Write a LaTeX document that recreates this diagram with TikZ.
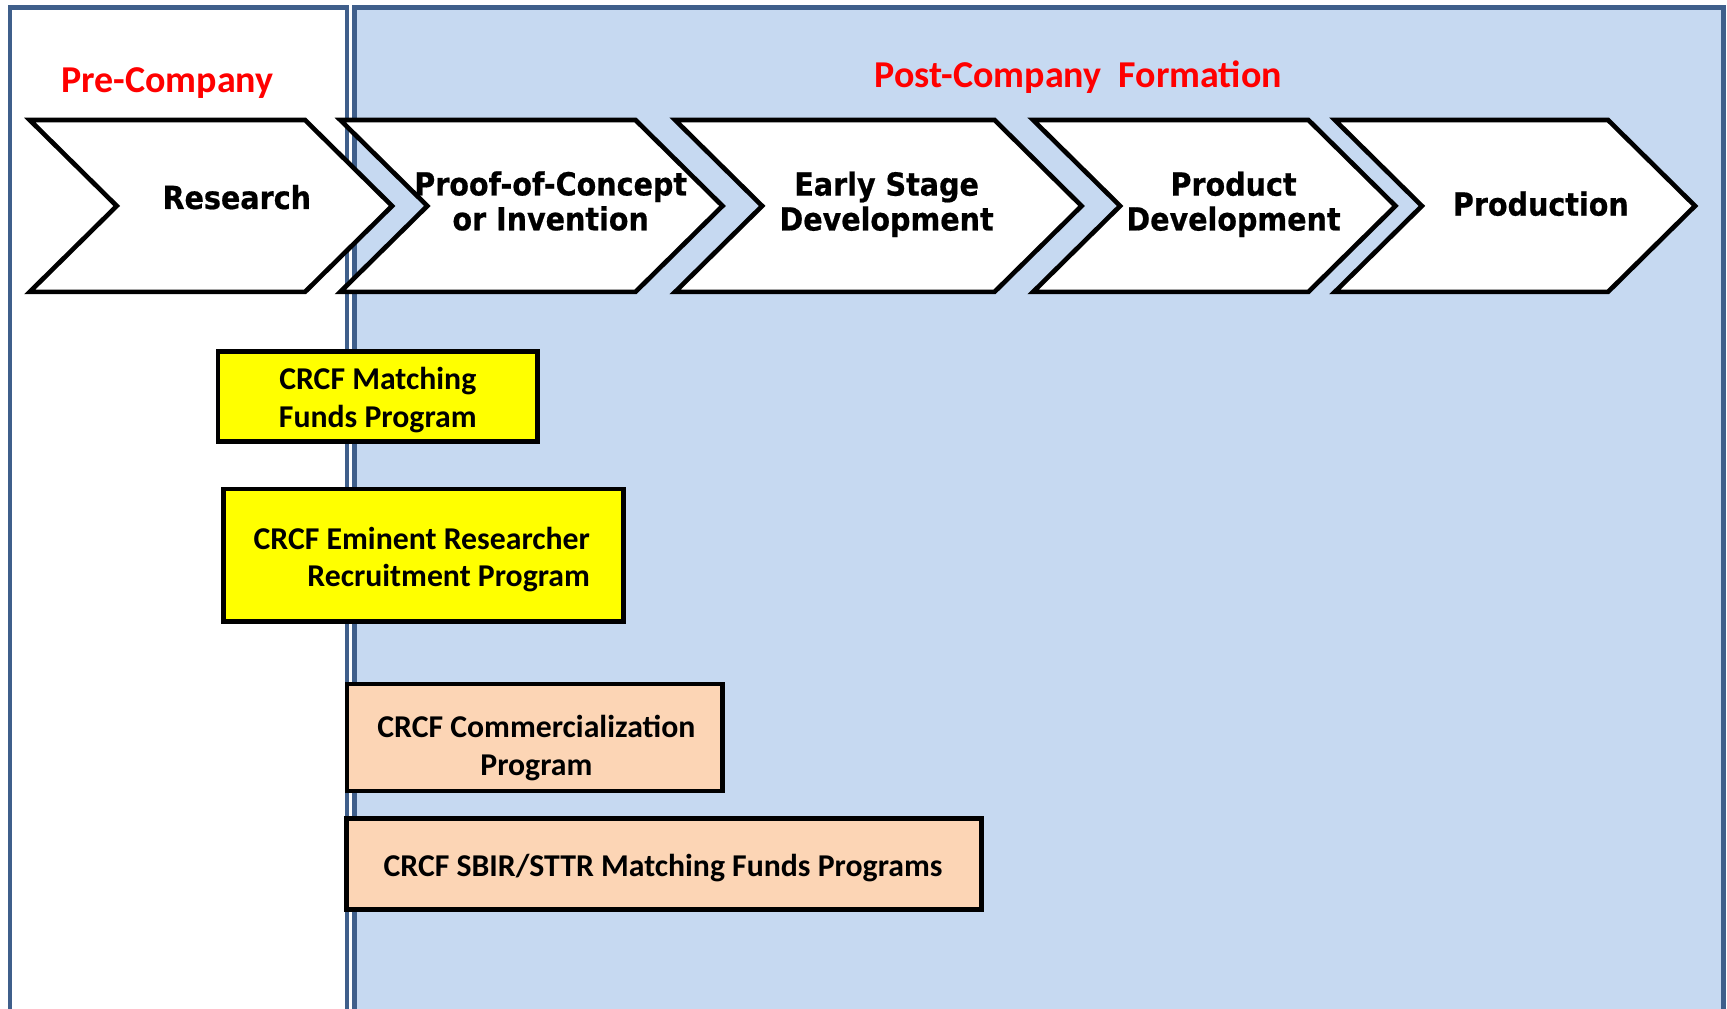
\documentclass[tikz,border=0pt]{standalone}
\usepackage{fontspec}
\setmainfont{Carlito}
\newfontfamily\stagefont[BoldFeatures={FakeBold=0.6}]{DejaVu Sans Condensed}
\usetikzlibrary{positioning}

\definecolor{panelblue}{HTML}{C6D9F1}
\definecolor{frameblue}{HTML}{3F5F8B}
\definecolor{fundyellow}{HTML}{FFFF00}
\definecolor{peach}{HTML}{FCD5B5}

\tikzset{
  frame/.style={draw=frameblue, line width=1.2pt},
  chev/.style={draw=black, fill=white, line width=1.2pt, line join=miter},
  stage/.style={font=\stagefont\bfseries\fontsize{8.2}{9}\selectfont, align=center, inner sep=0pt},
  phase/.style={text=red, font=\bfseries\fontsize{9.8}{12}\selectfont, inner sep=0pt},
  progbox/.style={draw=black, line width=1.2pt, inner sep=0pt},
  progtext/.style={inner sep=0pt, font=\bfseries\fontsize{8.2}{9.7}\selectfont}
}

% chevron: left x, top-right x
\newcommand{\chevron}[2]{%
  \draw[chev] (#1,109) -- (#2,109) -- (#2+79,187) -- (#2,265) -- (#1,265) -- (#1+79,187) -- cycle;}

\begin{document}
\begin{tikzpicture}[x=0.01cm,y=-0.01cm]
\useasboundingbox (0,0) rectangle (1568,916);
% panels
\fill[white] (9,7) rectangle (315,930);
\fill[panelblue] (322,7) rectangle (1565,930);
\draw[frame] (9,930) -- (9,7) -- (315,7) -- (315,930);
\draw[frame] (322,930) -- (322,7) -- (1565,7) -- (1565,930);
\node[phase] (pre) at (152,75) {Pre-Company};
\node[phase] (post) at (979,70) {Post-Company\ \ Formation};
% stages
\chevron{27}{277}
\chevron{309}{577}
\chevron{613}{903}
\chevron{938}{1188}
\chevron{1212}{1460}
\node[stage] (research) at (215,179) {Research};
\node[stage] (proof) at (500,182.5) {Proof-of-Concept\\or Invention};
\node[stage] (early) at (805,185.5) {Early Stage\\Development};
\node[stage] (product) at (1120,185.5) {Product\\Development};
\node[stage] (production) at (1399,185) {Production};
% programs
\node[progbox, fill=fundyellow, minimum width=2.90cm, minimum height=0.82cm] (matching) at (343,360) {};
\node[progtext, align=center] (matchingtext) at (343,363) {CRCF Matching\\Funds Program};
\node[progbox, fill=fundyellow, minimum width=3.63cm, minimum height=1.20cm] (eminent) at (384.5,504) {};
\node[progtext, align=right] (eminenttext) at (383,508) {CRCF Eminent Researcher\\Recruitment Program};
\node[progbox, fill=peach, minimum width=3.41cm, minimum height=0.97cm] (commercial) at (485.5,669.5) {};
\node[progtext, align=center] (commercialtext) at (487,679) {CRCF Commercialization\\Program};
\node[progbox, fill=peach, minimum width=5.76cm, minimum height=0.83cm] (sbir) at (603,784.5) {};
\node[progtext] (sbirtext) at (602,788.5) {CRCF SBIR/STTR Matching Funds Programs};
\end{tikzpicture}
\end{document}
